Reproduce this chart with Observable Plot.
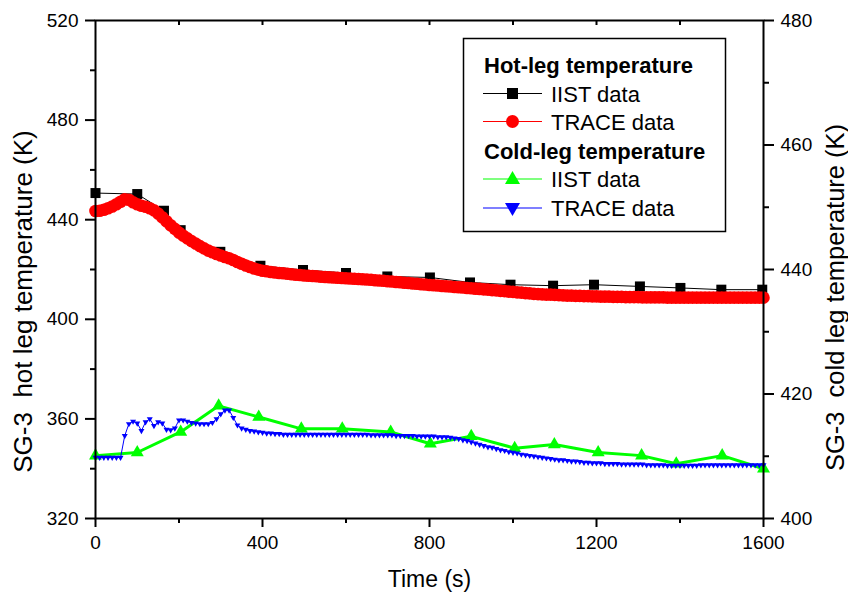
<!DOCTYPE html>
<html><head><meta charset="utf-8">
<script src="https://cdn.jsdelivr.net/npm/d3@7"></script>
<script src="https://cdn.jsdelivr.net/npm/@observablehq/plot@0.6"></script>
<style>
body{margin:0;background:#fff;}
svg{display:block;font-family:"Liberation Sans",Arial,sans-serif;}
</style>
</head><body><div id="chart"></div>
<script>
// ---- data ----
const hotIistTime = [0,100,164,204,299,395,497,600,699,801,897,994,1096,1194,1304,1401,1499,1597];
const hotIistTemp = [450.7,450.3,443.6,435.8,427.1,421.5,419.8,418.6,417.2,416.8,414.8,413.9,413.5,413.9,413.2,412.6,411.9,411.9];

const hotTraceStep = 10; // s between TRACE samples
const hotTraceTemp = [
443.5,443.6,444.0,444.6,445.3,446.2,447.2,448.2,448.0,447.0,
446.2,445.6,445.2,444.6,443.8,442.5,441.0,439.4,437.8,436.3,
434.8,433.6,432.5,431.4,430.4,429.4,428.5,427.6,426.9,426.2,
425.6,425.0,424.5,423.8,423.0,422.3,421.6,421.0,420.4,419.9,
419.5,419.3,419.0,418.8,418.6,418.5,418.3,418.1,417.9,417.8,
417.6,417.5,417.4,417.3,417.1,417.0,416.9,416.8,416.7,416.6,
416.5,416.4,416.3,416.2,416.1,416.0,415.9,415.7,415.6,415.5,
415.3,415.2,415.0,414.9,414.7,414.6,414.4,414.3,414.1,414.0,
413.8,413.7,413.6,413.4,413.3,413.2,413.0,412.9,412.8,412.6,
412.5,412.3,412.2,412.0,411.9,411.7,411.6,411.4,411.3,411.1,
411.0,410.8,410.7,410.5,410.4,410.2,410.1,410.0,409.9,409.9,
409.8,409.7,409.6,409.5,409.5,409.4,409.4,409.3,409.3,409.2,
409.2,409.1,409.1,409.1,409.0,409.0,409.0,408.9,408.9,408.9,
408.9,408.8,408.8,408.8,408.8,408.8,408.8,408.7,408.7,408.7,
408.7,408.7,408.7,408.7,408.7,408.7,408.7,408.7,408.7,408.7,
408.7,408.7,408.7,408.7,408.7,408.7,408.7,408.7,408.7,408.7,
408.7];

const coldIistTime = [0,100,204,295,391,493,591,707,802,900,1004,1099,1204,1308,1391,1501,1600];
const coldIistTemp = [410.1,410.6,413.9,418.1,416.3,414.4,414.4,413.9,412.0,413.2,411.3,411.9,410.6,410.1,408.8,410.1,408.0];

const coldTraceStep = 10;
const coldTraceTemp = [
409.8,409.8,409.8,409.8,409.8,409.8,409.8,413.3,415.2,415.6,
415.3,414.1,415.5,416.0,414.9,415.5,415.3,414.3,414.2,414.5,
415.8,415.8,415.6,415.4,415.3,415.2,415.2,415.2,415.4,416.0,
416.8,417.4,417.4,416.2,415.0,414.5,414.3,414.1,414.0,413.9,
413.8,413.7,413.7,413.6,413.6,413.5,413.5,413.5,413.5,413.5,
413.5,413.5,413.5,413.5,413.5,413.5,413.5,413.5,413.5,413.5,
413.5,413.5,413.5,413.5,413.5,413.5,413.4,413.4,413.4,413.4,
413.4,413.4,413.3,413.3,413.3,413.3,413.3,413.2,413.2,413.2,
413.2,413.2,413.1,413.1,413.1,413.0,412.9,412.8,412.6,412.5,
412.3,412.1,411.9,411.7,411.5,411.4,411.2,411.0,410.9,410.7,
410.6,410.5,410.3,410.2,410.1,410.0,409.9,409.8,409.7,409.6,
409.5,409.4,409.4,409.3,409.2,409.2,409.1,409.0,409.0,408.9,
408.9,408.9,408.8,408.8,408.8,408.8,408.7,408.7,408.7,408.7,
408.7,408.7,408.6,408.6,408.6,408.6,408.6,408.5,408.5,408.5,
408.5,408.5,408.5,408.5,408.5,408.6,408.6,408.6,408.6,408.6,
408.6,408.6,408.6,408.6,408.6,408.6,408.6,408.6,408.6,408.6,
408.6];

const xTicks = [0,400,800,1200,1600];
const xMinorTicks = [200,600,1000,1400];
const topTicks = [200,400,600,800,1000,1200,1400];
const leftTicks = [320,360,400,440,480,520];
const leftMinorTicks = [340,380,420,460,500];
const rightTicks = [400,420,440,460,480];
const rightMinorTicks = [410,430,450,470];

const xLabel = "Time (s)";
const leftLabel = "SG-3  hot leg temperature (K)";
const rightLabel = "SG-3  cold leg temperature (K)";
const legendGroups = ["Hot-leg temperature","Cold-leg temperature"];
const legendSeries = ["IIST data","TRACE data","IIST data","TRACE data"];

// ---- build tables ----
const hotIist = hotIistTime.map((t,i)=>({t, v: hotIistTemp[i]}));
const hotTrace = hotTraceTemp.map((v,i)=>({t: i*hotTraceStep, v}));
const coldIist = coldIistTime.map((t,i)=>({t, v: coldIistTemp[i]}));
const coldTrace = coldTraceTemp.map((v,i)=>({t: i*coldTraceStep, v}));

// cold-leg axis (400..480) is mapped onto the hot-leg scale (320..520)
const toLeft = v => 320 + (v - 400) * 2.5;
const fromLeft = y => 400 + (y - 320) / 2.5;

const triUp = {draw(ctx, size){ const a = Math.sqrt(size/Math.PI); const h = a*Math.sqrt(3);
  ctx.moveTo(0, -h*2/3); ctx.lineTo(a, h/3); ctx.lineTo(-a, h/3); ctx.closePath(); }};
const triDown = {draw(ctx, size){ const a = Math.sqrt(size/Math.PI); const h = a*Math.sqrt(3);
  ctx.moveTo(0, h*2/3); ctx.lineTo(a, -h/3); ctx.lineTo(-a, -h/3); ctx.closePath(); }};
const square = {draw(ctx, size){ const a = Math.sqrt(size/Math.PI); ctx.rect(-a,-a,2*a,2*a); }};

const FS = 19;
const fmt = d => String(d);
const chart = Plot.plot({
  width: 848, height: 599,
  marginLeft: 95, marginRight: 85, marginTop: 20, marginBottom: 81,
  style: {background: "#fff", color: "black", fontFamily: '"Liberation Sans", Arial, sans-serif'},
  x: {domain: [0,1600], axis: null},
  y: {domain: [320,520], axis: null},
  marks: [
    // data
    Plot.line(hotIist, {x:"t", y:"v", stroke:"black", strokeWidth:1}),
    Plot.dot(hotIist, {x:"t", y:"v", symbol: square, r:5, fill:"black"}),
    Plot.line(hotTrace, {x:"t", y:"v", stroke:"red", strokeWidth:1}),
    Plot.dot(hotTrace, {x:"t", y:"v", r:6.3, fill:"red"}),
    Plot.line(coldIist, {x:"t", y:d=>toLeft(d.v), stroke:"#00ff00", strokeWidth:3}),
    Plot.dot(coldIist, {x:"t", y:d=>toLeft(d.v), symbol: triUp, r:6.5, fill:"#00ff00"}),
    Plot.line(coldTrace, {x:"t", y:d=>toLeft(d.v), stroke:"#0000ff", strokeWidth:1}),
    Plot.dot(coldTrace, {x:"t", y:d=>toLeft(d.v), symbol: triDown, r:3, fill:"#0000ff"}),
    // frame & axes
    Plot.frame({stroke:"black", strokeWidth:2}),
    Plot.axisX({anchor:"bottom", ticks:xTicks, tickFormat:fmt, tickSize:9, tickPadding:8, fontSize:FS, strokeWidth:2, label:null}),
    Plot.axisX({anchor:"bottom", ticks:xMinorTicks, tickSize:5, tickFormat:()=>"", strokeWidth:2, label:null}),
    Plot.axisX({anchor:"top", ticks:topTicks, tickSize:-4, tickFormat:()=>"", strokeWidth:2, label:null}),
    Plot.axisY({anchor:"left", ticks:leftTicks, tickFormat:fmt, tickSize:10, tickPadding:7, fontSize:FS, strokeWidth:2, label:null}),
    Plot.axisY({anchor:"left", ticks:leftMinorTicks, tickSize:5, tickFormat:()=>"", strokeWidth:2, label:null}),
    Plot.axisY({anchor:"right", ticks:rightTicks.map(toLeft), tickFormat:d=>String(Math.round(fromLeft(d))), tickSize:10, tickPadding:7, fontSize:FS, strokeWidth:2, label:null}),
    Plot.axisY({anchor:"right", ticks:rightMinorTicks.map(toLeft), tickSize:5, tickFormat:()=>"", strokeWidth:2, label:null}),
    // axis titles
    Plot.text([xLabel], {text:d=>d, frameAnchor:"bottom", dy:61, fontSize:23, textAnchor:"middle", lineAnchor:"middle", fill:"black"}),
    Plot.text([leftLabel], {text:d=>d, frameAnchor:"left", dx:-72, dy:32, rotate:-90, fontSize:26, textAnchor:"middle", lineAnchor:"middle", fill:"black"}),
    Plot.text([rightLabel], {text:d=>d, frameAnchor:"right", dx:72, dy:28, rotate:-90, fontSize:25.5, textAnchor:"middle", lineAnchor:"middle", fill:"black"})
  ]
});
document.getElementById("chart").appendChild(chart);

// ---- legend (inside plot, upper right) ----
const svg = d3.select(chart);
const lg = svg.append("g").attr("font-family",'"Liberation Sans", Arial, sans-serif')
  .attr("font-size",22).attr("text-anchor","start");
lg.append("rect").attr("x",463.5).attr("y",38.5).attr("width",262).attr("height",193)
  .attr("fill","white").attr("stroke","black").attr("stroke-width",1.5);
lg.append("text").attr("x",484).attr("y",73).attr("font-weight","bold").text(legendGroups[0]);
lg.append("text").attr("x",484).attr("y",158.5).attr("font-weight","bold").text(legendGroups[1]);
const rows = [
  {cy:93.5, base:101.5, color:"black", sym:"square"},
  {cy:121.5, base:130, color:"red", sym:"circle"},
  {cy:179, base:187, color:"#00ff00", sym:"up"},
  {cy:208, base:216, color:"#0000ff", sym:"down"}
];
rows.forEach((r,i)=>{
  lg.append("line").attr("x1",483).attr("x2",542).attr("y1",r.cy).attr("y2",r.cy).attr("stroke",r.color).attr("stroke-width",1.2);
  const cx = 512.5;
  if (r.sym==="square") lg.append("rect").attr("x",cx-5.5).attr("y",r.cy-5.5).attr("width",11).attr("height",11).attr("fill",r.color);
  if (r.sym==="circle") lg.append("circle").attr("cx",cx).attr("cy",r.cy).attr("r",6.5).attr("fill",r.color);
  if (r.sym==="up") lg.append("path").attr("d",`M${cx},${r.cy-8}L${cx+7.5},${r.cy+5}L${cx-7.5},${r.cy+5}Z`).attr("fill",r.color);
  if (r.sym==="down") lg.append("path").attr("d",`M${cx},${r.cy+8}L${cx+7.5},${r.cy-5}L${cx-7.5},${r.cy-5}Z`).attr("fill",r.color);
  lg.append("text").attr("x",551).attr("y",r.base).attr("fill","black").text(legendSeries[i]);
});
</script>
</body></html>
